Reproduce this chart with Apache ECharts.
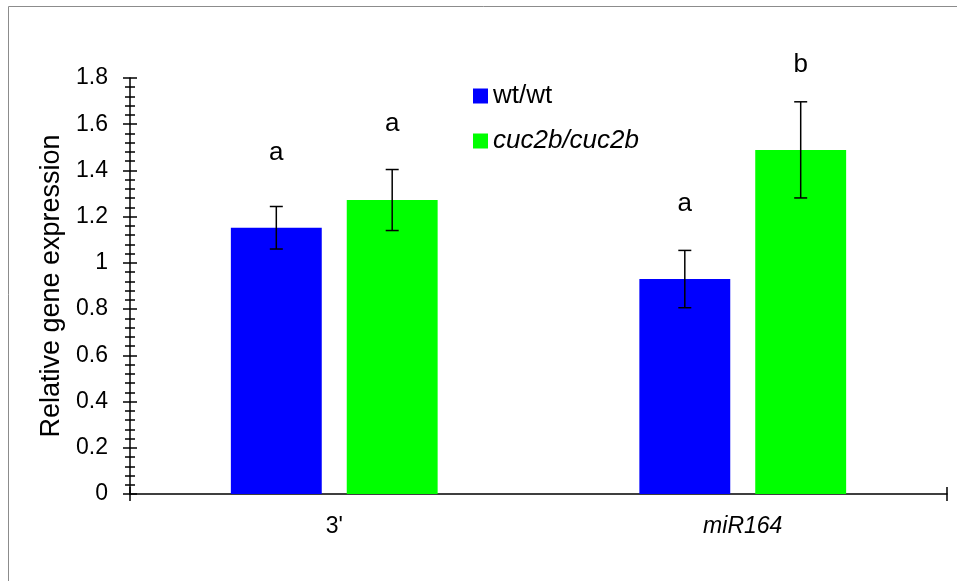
<!DOCTYPE html>
<html>
<head>
<meta charset="utf-8">
<script src="https://cdn.jsdelivr.net/npm/echarts@6/dist/echarts.min.js"></script>
<style>
html,body{margin:0;padding:0;background:#fff;}
#chart{width:957px;height:581px;}
</style>
</head>
<body>
<div id="chart"></div>
<script>
// ---- data ----
const categories = ["3'", "miR164"];
const seriesNames = ["wt/wt", "cuc2b/cuc2b"];
const wtMean = [1.152, 0.930];
const wtErr = [0.092, 0.124];
const cucMean = [1.272, 1.489];
const cucErr = [0.132, 0.208];
const wtLetters = ["a", "a"];
const cucLetters = ["a", "b"];
const wtLetterY = [1.477, 1.255];
const cucLetterY = [1.602, 1.856];
const yMin = 0, yMax = 1.8, yStep = 0.2;

// ---- styling ----
const FONT = '"Liberation Sans", Arial, sans-serif';
const BAR_W = 0.2225;   // fraction of band
const BAR_GAP = 0.275;  // fraction of bar width
const BLUE = '#0000ff', GREEN = '#00ff00';

function errData(mean, err, letterY) {
  return mean.map((m, i) => [i, m - err[i], m + err[i], letterY[i]]);
}

function makeRender(sign, letters) {
  return function (params, api) {
    const cat = api.value(0);
    const lo = api.coord([cat, api.value(1)]);
    const hi = api.coord([cat, api.value(2)]);
    const band = api.size([1, 0])[0];
    const off = sign * band * BAR_W * (1 + BAR_GAP) / 2;
    const x = lo[0] + off;
    const ly = api.coord([cat, api.value(3)])[1];
    const cap = 6.5;
    const ls = { stroke: '#000', lineWidth: 1.5 };
    return {
      type: 'group',
      children: [
        { type: 'line', shape: { x1: x, y1: lo[1], x2: x, y2: hi[1] }, style: ls },
        { type: 'line', shape: { x1: x - cap, y1: hi[1], x2: x + cap, y2: hi[1] }, style: ls },
        { type: 'line', shape: { x1: x - cap, y1: lo[1], x2: x + cap, y2: lo[1] }, style: ls },
        { type: 'text', style: { text: letters[params.dataIndex], x: x, y: ly, align: 'center', verticalAlign: 'middle', fontSize: 26, fontFamily: FONT, fill: '#000' } }
      ]
    };
  };
}

const chart = echarts.init(document.getElementById('chart'), null, { renderer: 'canvas' });

const valAxisBase = {
  type: 'value', min: yMin, max: yMax, interval: yStep,
  splitLine: { show: false },
  axisLine: { show: false },
  minorTick: { show: true, splitNumber: 5, length: 5, lineStyle: { color: '#000', width: 1.5 } },
  minorSplitLine: { show: false }
};

chart.setOption({
  backgroundColor: '#fff',
  animation: false,
  textStyle: { fontFamily: FONT },
  graphic: [{
    type: 'rect', shape: { x: 8.5, y: 6.5, width: 1200, height: 1200 },
    style: { fill: 'none', stroke: '#8c8c8c', lineWidth: 1 }, z: -10, silent: true
  }],
  grid: { left: 130, right: 10, top: 78, bottom: 87, containLabel: false },
  legend: {
    data: seriesNames,
    orient: 'vertical',
    left: 473, top: 83, padding: 0,
    itemWidth: 15, itemHeight: 15, itemGap: 19,
    icon: 'rect',
    formatter: name => name === 'cuc2b/cuc2b' ? '{it|' + name + '}' : '{n|' + name + '}',
    textStyle: {
      color: '#000', fontSize: 26, fontFamily: FONT,
      rich: {
        n: { fontSize: 26, fontFamily: FONT, color: '#000' },
        it: { fontSize: 26, fontFamily: FONT, fontStyle: 'italic', color: '#000' }
      }
    }
  },
  xAxis: [
    {
      type: 'category', data: categories, boundaryGap: true,
      axisLine: { show: true, lineStyle: { color: '#000', width: 1.5 } },
      axisTick: { show: false },
      axisLabel: {
        margin: 21, color: '#000', fontSize: 23, fontFamily: FONT,
        formatter: v => v === 'miR164' ? '{it|' + v + '}' : '{n|' + v + '}',
        rich: {
          n: { fontSize: 23, fontFamily: FONT, color: '#000' },
          it: { fontSize: 23, fontFamily: FONT, fontStyle: 'italic', color: '#000' }
        }
      }
    },
    {
      type: 'value', min: 0, max: 2, interval: 2, position: 'bottom',
      axisLine: { show: false }, axisLabel: { show: false }, splitLine: { show: false },
      axisTick: { show: true, inside: false, length: 7, lineStyle: { color: '#000', width: 1.5 } }
    },
    {
      type: 'value', min: 0, max: 2, interval: 2, position: 'bottom',
      axisLine: { show: false }, axisLabel: { show: false }, splitLine: { show: false },
      axisTick: { show: true, inside: true, length: 7, lineStyle: { color: '#000', width: 1.5 } }
    }
  ],
  yAxis: [
    Object.assign({}, valAxisBase, {
      axisLine: { show: true, lineStyle: { color: '#000', width: 1.5 } },
      axisTick: { show: true, inside: false, length: 7, lineStyle: { color: '#000', width: 1.5 } },
      minorTick: { show: true, splitNumber: 5, length: 5, lineStyle: { color: '#000', width: 1.5 } },
      axisLabel: {
        margin: 22, color: '#000', fontSize: 23, fontFamily: FONT,
        formatter: v => String(Math.round(v * 10) / 10)
      },
      name: 'Relative gene expression',
      nameLocation: 'middle', nameRotate: 90, nameGap: 64,
      nameTextStyle: { color: '#000', fontSize: 27, fontFamily: FONT }
    }),
    Object.assign({}, valAxisBase, {
      position: 'left',
      axisTick: { show: true, inside: true, length: 7, lineStyle: { color: '#000', width: 1.5 } },
      axisLabel: { show: false }
    })
  ],
  series: [
    {
      name: seriesNames[0], type: 'bar', data: wtMean,
      barWidth: (BAR_W * 100) + '%', barGap: (BAR_GAP * 100) + '%',
      itemStyle: { color: BLUE }, z: 2
    },
    {
      name: seriesNames[1], type: 'bar', data: cucMean,
      barWidth: (BAR_W * 100) + '%', barGap: (BAR_GAP * 100) + '%',
      itemStyle: { color: GREEN }, z: 2
    },
    {
      name: 'wt err', type: 'custom', clip: false, z: 5,
      renderItem: makeRender(-1, wtLetters),
      data: errData(wtMean, wtErr, wtLetterY)
    },
    {
      name: 'cuc err', type: 'custom', clip: false, z: 5,
      renderItem: makeRender(1, cucLetters),
      data: errData(cucMean, cucErr, cucLetterY)
    }
  ]
});
</script>
</body>
</html>
